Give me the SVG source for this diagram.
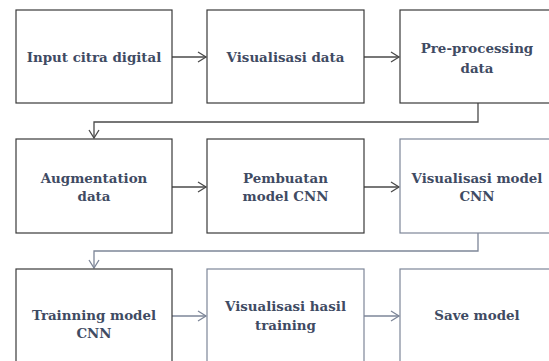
<svg xmlns="http://www.w3.org/2000/svg" width="549" height="361" viewBox="0 0 549 361">
  <style>
    .box { fill: #ffffff; stroke: #3a3a3a; stroke-width: 1.2; }
    .box.soft { stroke: #7d8698; }
    .lbl { font-family: "DejaVu Serif", serif; font-weight: bold; font-size: 13.4px; fill: #3f4b63; text-anchor: middle; }
    .con { fill: none; stroke: #4a4a4a; stroke-width: 1.3; }
    .con.soft { stroke: #7d8698; }
    .head { fill: none; stroke: #4a4a4a; stroke-width: 1.3; }
    .head.soft { stroke: #7d8698; }
  </style>
  <rect width="549" height="361" fill="#ffffff"/>

  <!-- connectors -->
  <g id="connectors">
    <path class="con" d="M172 57 H206"/><path class="head" d="M198 52 L206 57 L198 62"/>
    <path class="con" d="M364 57 H399"/><path class="head" d="M391 52 L399 57 L391 62"/>
    <path class="con" d="M478 103 V122 H94 V138"/><path class="head" d="M89 130 L94 138 L99 130"/>
    <path class="con" d="M172 187 H206"/><path class="head" d="M198 182 L206 187 L198 192"/>
    <path class="con" d="M364 187 H399"/><path class="head" d="M391 182 L399 187 L391 192"/>
    <path class="con soft" d="M478 233 V251 H94 V268"/><path class="head soft" d="M89 260 L94 268 L99 260"/>
    <path class="con soft" d="M172 316 H206"/><path class="head soft" d="M198 311 L206 316 L198 321"/>
    <path class="con soft" d="M364 316 H399"/><path class="head soft" d="M391 311 L399 316 L391 321"/>
  </g>

  <g id="input-citra">
    <rect class="box" x="16" y="10" width="156" height="93"/>
    <text class="lbl" x="94" y="62">Input citra digital</text>
  </g>
  <g id="visualisasi-data">
    <rect class="box" x="207" y="10" width="157" height="93"/>
    <text class="lbl" x="285.5" y="62">Visualisasi data</text>
  </g>
  <g id="pre-processing">
    <rect class="box" x="400" y="10" width="156" height="93"/>
    <text class="lbl" x="477" y="53">Pre-processing</text>
    <text class="lbl" x="477" y="73">data</text>
  </g>

  <g id="augmentation">
    <rect class="box" x="16" y="139" width="156" height="94"/>
    <text class="lbl" x="94" y="183">Augmentation</text>
    <text class="lbl" x="94" y="201">data</text>
  </g>
  <g id="pembuatan-model">
    <rect class="box" x="207" y="139" width="157" height="94"/>
    <text class="lbl" x="285.5" y="183">Pembuatan</text>
    <text class="lbl" x="285.5" y="201">model CNN</text>
  </g>
  <g id="visualisasi-model">
    <rect class="box soft" x="400" y="139" width="156" height="94"/>
    <text class="lbl" x="477" y="183">Visualisasi model</text>
    <text class="lbl" x="477" y="201">CNN</text>
  </g>

  <g id="training-model">
    <rect class="box" x="16" y="269" width="156" height="100"/>
    <text class="lbl" x="94" y="320">Trainning model</text>
    <text class="lbl" x="94" y="338">CNN</text>
  </g>
  <g id="visualisasi-hasil">
    <rect class="box soft" x="207" y="269" width="157" height="100"/>
    <text class="lbl" x="285.5" y="311">Visualisasi hasil</text>
    <text class="lbl" x="285.5" y="330">training</text>
  </g>
  <g id="save-model">
    <rect class="box soft" x="400" y="269" width="156" height="100"/>
    <text class="lbl" x="477" y="320">Save model</text>
  </g>
</svg>
